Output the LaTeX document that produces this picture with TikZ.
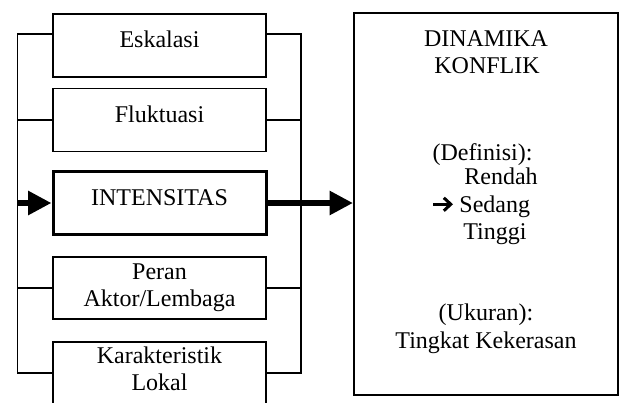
\documentclass[tikz,border=0pt]{standalone}
\usepackage{fontspec}
\setmainfont{Liberation Serif}
\usetikzlibrary{positioning,arrows.meta}

\tikzset{
  fbox/.style={draw, line width=0.75pt, minimum width=106.5pt, minimum height=31.5pt, inner sep=0pt},
  oneline/.style={text height=8pt, text depth=6pt},
  fat/.style={line width=3pt, -{Triangle[length=11.75pt, width=11.5pt]}},
  txt/.style={anchor=base, inner sep=0pt},
}

\begin{document}
\begin{tikzpicture}[x=0.5pt, y=-0.5pt, font=\fontsize{12}{13.7}\selectfont]
    \useasboundingbox (0,0) rectangle (619,402);
    \foreach \y/\name/\txt in {45.5/esk/Eskalasi, 120/fluk/Fluktuasi}{\node[fbox, oneline] (\name) at (159.5,\y) {\txt};}
    \node[fbox, oneline, line width=1.5pt] (inten) at (159.5,203) {INTENSITAS};
    \node[fbox, align=center, minimum height=31pt] (peran) at (159.5,288) {Peran\\Aktor/Lembaga};
    \node[fbox, align=center, minimum height=31pt] (karak) at (159.5,373) {Karakteristik\\Lokal\strut};
    \node[draw, line width=1pt, minimum width=132pt, minimum height=191pt] (konflik) at (486,204) {};
    \coordinate (ltop) at (17.5,34); \coordinate (lbot) at (17.5,373);
    \coordinate (rtop) at (301,34); \coordinate (rbot) at (301,373);
    \draw[line width=0.75pt] (esk.west |- ltop) -- (ltop) -- (lbot) -- (karak.west);
    \draw[line width=0.75pt] (esk.east |- rtop) -- (rtop) -- (rbot) -- (karak.east);
    \foreach \name in {fluk,peran}{\draw[line width=0.75pt] (\name.west) -- (\name.west -| ltop) (\name.east) -- (\name.east -| rtop);}
    \draw[fat] (inten.west -| ltop) -- (inten.west);
    \draw[fat] (inten.east) -- (inten.east -| konflik.west);
    \node[txt] (dina) at (486,46) {DINAMIKA};
    \node[txt] (konf) at (487,73.5) {KONFLIK};
    \node[txt] (defi) at (482.5,160) {(Definisi):};
    \node[txt, anchor=base west] (rendah) at (464,184) {Rendah};
    \node[txt, anchor=base west] (sedang) at (459,212) {Sedang};
    \node[txt, anchor=base west] (tinggi) at (463,239) {Tinggi};
    \node[txt] (ukur) at (486,320.5) {(Ukuran):};
    \node[txt] (tingkat) at (486,348) {Tingkat Kekerasan};
    \coordinate (panah) at ([xshift=-13pt, yshift=1pt]sedang.west);
    \draw[line width=1.5pt, -{Straight Barb[length=3.5pt, width=6.5pt]}] (panah) -- ([xshift=-3pt, yshift=1pt]sedang.west);
\end{tikzpicture}
\end{document}
